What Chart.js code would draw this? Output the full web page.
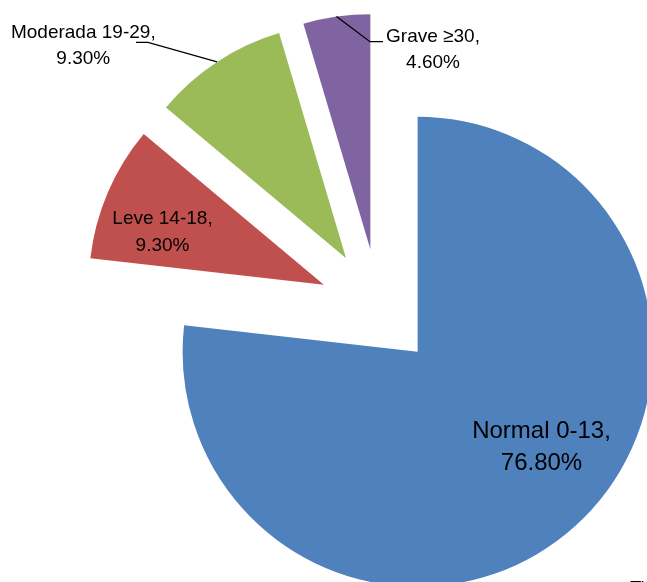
<!DOCTYPE html>
<html>
<head>
<meta charset="utf-8">
<title>Grados</title>
<script src="https://cdn.jsdelivr.net/npm/chart.js@4.4.0/dist/chart.umd.min.js"></script>
<style>
  html, body {
    margin: 0;
    padding: 0;
    background: #ffffff;
    overflow: hidden;
  }
  #wrap {
    position: absolute;
    left: 0;
    top: 0;
  }
</style>
</head>
<body>
<div id="wrap">
  <canvas id="gradosChart" width="758" height="617"></canvas>
</div>
<script>
  // datos
  const categories = ['Normal 0-13', 'Leve 14-18', 'Moderada 19-29', 'Grave ≥30'];
  const shares = [76.8, 9.3, 9.3, 4.6];

  // estilo de cada porción
  const sliceColors = ['#4F81BD', '#C0504D', '#9BBB59', '#8064A2'];
  const explode = [58, 60, 60, 60];

  // etiquetas: centro x, líneas base, tamaño, y codo de la línea guía
  const labelStyle = [
    { x: 541.5, y: [437.7, 470.0], size: 24 },
    { x: 162.5, y: [224.3, 251.0], size: 19 },
    { x: 83.3, y: [38.3, 64.3], size: 19, leader: [[148, 42.3], [136, 42.3]] },
    { x: 433, y: [41.7, 68.3], size: 19, leader: [[370, 41.7], [383, 41.7]] }
  ];

  const FONT = '"Liberation Sans", Arial, sans-serif';

  document.addEventListener('DOMContentLoaded', () => {
    // separa cada porción del centro a lo largo de su bisectriz
    const explodePlugin = {
      id: 'explodeSlices',
      afterDatasetsUpdate(chart) {
        chart.getDatasetMeta(0).data.forEach((arc, i) => {
          const mid = (arc.startAngle + arc.endAngle) / 2;
          arc.x += Math.cos(mid) * explode[i];
          arc.y += Math.sin(mid) * explode[i];
        });
      }
    };

    // rótulos de datos con líneas guía
    const labelPlugin = {
      id: 'sliceLabels',
      afterDatasetsDraw(chart) {
        const c = chart.ctx;
        const arcs = chart.getDatasetMeta(0).data;
        c.save();
        arcs.forEach((arc, i) => {
          const st = labelStyle[i];
          if (st.leader) {
            const mid = (arc.startAngle + arc.endAngle) / 2;
            c.beginPath();
            c.moveTo(arc.x + Math.cos(mid) * arc.outerRadius, arc.y + Math.sin(mid) * arc.outerRadius);
            st.leader.forEach(p => c.lineTo(p[0], p[1]));
            c.strokeStyle = '#000000';
            c.lineWidth = 1.3;
            c.stroke();
          }
          const lines = [`${categories[i]},`, `${shares[i].toFixed(2)}%`];
          c.fillStyle = '#000000';
          c.font = `${st.size}px ${FONT}`;
          c.textAlign = 'center';
          c.textBaseline = 'alphabetic';
          lines.forEach((t, k) => c.fillText(t, st.x, st.y[k]));
        });
        // título cortado en la esquina inferior
        c.font = `18.5px ${FONT}`;
        c.textAlign = 'left';
        c.fillText('Ti', 630, 594);
        c.restore();
      }
    };

    const ctx = document.getElementById('gradosChart').getContext('2d');

    new Chart(ctx, {
      type: 'pie',
      data: {
        labels: categories,
        datasets: [{
          data: shares,
          backgroundColor: sliceColors,
          borderWidth: 0
        }]
      },
      options: {
        responsive: false,
        animation: false,
        events: [],
        radius: 235,
        layout: { padding: 0 },
        plugins: {
          legend: { display: false },
          tooltip: { enabled: false }
        }
      },
      plugins: [explodePlugin, labelPlugin]
    });
  });
</script>
</body>
</html>
